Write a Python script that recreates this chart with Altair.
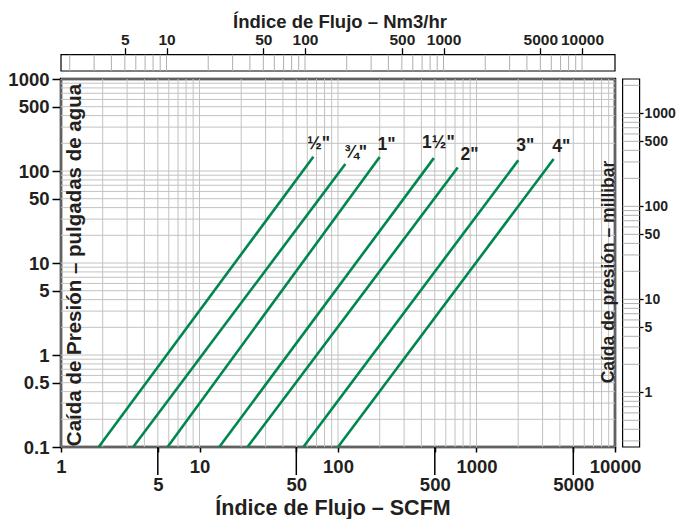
import altair as alt
import pandas as pd

# ---------------- data ----------------
sizes = ['½"', '¾"', '1"', '1½"', '2"', '3"', '4"']
flow_low = [1.87, 3.32, 5.88, 13.9, 22.2, 56.2, 100]          # SCFM at 0.1 in. w.c.
drop_low = [0.1, 0.1, 0.1, 0.1, 0.1, 0.1, 0.1]
flow_high = [66.4, 113, 200, 492, 732, 2005, 3605]           # SCFM at upper end
drop_high = [143, 119, 142, 138, 109, 131, 135]              # in. w.c. at upper end
label_flow = [72.5, 134, 224, 531, 889, 2253, 4093]
label_drop = [196, 157, 191, 201, 149, 187, 182]

scfm_ticks = [1, 5, 10, 50, 100, 500, 1000, 5000, 10000]
scfm_lower_row = [5, 50, 500, 5000]
inh2o_ticks = [0.1, 0.5, 1, 5, 10, 50, 100, 500, 1000]
nm3_ticks = [5, 10, 50, 100, 500, 1000, 5000, 10000]
mbar_ticks = [1, 5, 10, 50, 100, 500, 1000]

scfm_grid = [1, 2, 3, 4, 5, 6, 7, 8, 9,
             10, 20, 30, 40, 50, 60, 70, 80, 90,
             100, 200, 300, 400, 500, 600, 700, 800, 900,
             1000, 2000, 3000, 4000, 5000, 6000, 7000, 8000, 9000, 10000]
inh2o_grid = [0.1, 0.2, 0.3, 0.4, 0.5, 0.6, 0.7, 0.8, 0.9,
              1, 2, 3, 4, 5, 6, 7, 8, 9,
              10, 20, 30, 40, 50, 60, 70, 80, 90,
              100, 200, 300, 400, 500, 600, 700, 800, 900, 1000]
nm3_grid = [2, 3, 4, 5, 6, 7, 8, 9,
            10, 20, 30, 40, 50, 60, 70, 80, 90,
            100, 200, 300, 400, 500, 600, 700, 800, 900,
            1000, 2000, 3000, 4000, 5000, 6000, 7000, 8000, 9000, 10000]
mbar_grid = [0.3, 0.4, 0.5, 0.6, 0.7, 0.8, 0.9,
             1, 2, 3, 4, 5, 6, 7, 8, 9,
             10, 20, 30, 40, 50, 60, 70, 80, 90,
             100, 200, 300, 400, 500, 600, 700, 800, 900, 1000, 2000]

scfm_domain = [1, 10000]
inh2o_domain = [0.1, 1000]
nm3_domain = [1.73, 17300]
mbar_domain = [0.258, 2340]

# ---------------- styling ----------------
W, H = 554, 368
FONT = "Liberation Sans"
INK = "#231f20"
GREEN = "#00874f"
GRID = "#c2c2c2"

xs = alt.Scale(type="log", domain=scfm_domain)
ys = alt.Scale(type="log", domain=inh2o_domain)
top_scale = alt.Scale(type="log", domain=nm3_domain)
right_scale = alt.Scale(type="log", domain=mbar_domain)

one = pd.DataFrame({"k": [0]})

lines_rows = []
for i, s in enumerate(sizes):
    lines_rows.append({"size": s, "order": 0, "flow": flow_low[i], "drop": drop_low[i]})
    lines_rows.append({"size": s, "order": 1, "flow": flow_high[i], "drop": drop_high[i]})
lines_df = pd.DataFrame(lines_rows)
labels_df = pd.DataFrame({"size": sizes, "flow": label_flow, "drop": label_drop})

x_axis = alt.Axis(
    orient="bottom", values=scfm_ticks, format="~g", grid=False, domain=False,
    tickSize=5, tickWidth=1.5, tickColor="black",
    labelPadding={"condition": {"test": "indexof([5,50,500,5000], datum.value) >= 0", "value": 23},
                  "value": 5},
    labelFont=FONT, labelFontSize=18.5, labelFontWeight="bold", labelColor=INK,
    labelFlush=False, labelOverlap=False, title=None,
)
y_axis = alt.Axis(
    orient="left", values=inh2o_ticks, format="~g", grid=False, domain=False,
    tickSize=9, tickWidth=1.5, tickColor="black", labelPadding=3,
    labelFont=FONT, labelFontSize=18.5, labelFontWeight="bold", labelColor=INK,
    labelFlush=False, labelOverlap=False, title=None,
)

X = alt.X("flow:Q", scale=xs, axis=x_axis)
Y = alt.Y("drop:Q", scale=ys, axis=y_axis)

vgrid = alt.Chart(pd.DataFrame({"flow": scfm_grid})).mark_rule(color=GRID, strokeWidth=1).encode(
    x=X, y=alt.value(0), y2=alt.value(H))
hgrid = alt.Chart(pd.DataFrame({"drop": inh2o_grid})).mark_rule(color=GRID, strokeWidth=1).encode(
    y=Y, x=alt.value(0), x2=alt.value(W))
long_ticks = alt.Chart(pd.DataFrame({"flow": scfm_lower_row})).mark_rule(color="black", strokeWidth=1.5).encode(
    x=X, y=alt.value(H), y2=alt.value(H + 28))
lines = alt.Chart(lines_df).mark_line(color=GREEN, strokeWidth=2.6).encode(
    x=X, y=Y, detail="size:N", order="order:Q")
labels = alt.Chart(labels_df).mark_text(font=FONT, fontSize=17.5, fontWeight="bold", color=INK).encode(
    x=X, y=Y, text="size:N")

title_bottom = alt.Chart(one).mark_text(
    text="Índice de Flujo – SCFM", font=FONT, fontSize=21.5, fontWeight="bold", color=INK,
    align="center", baseline="alphabetic").encode(x=alt.value(272), y=alt.value(435.5))
title_left = alt.Chart(one).mark_text(
    text="Caída de Presión – pulgadas de agua", font=FONT, fontSize=20.5, fontWeight="bold", color=INK,
    align="center", baseline="alphabetic", angle=270).encode(x=alt.value(20), y=alt.value(186))
title_right = alt.Chart(one).mark_text(
    text="Caída de presión – millibar", font=FONT, fontSize=17.5, fontWeight="bold", color=INK,
    align="center", baseline="alphabetic", angle=270).encode(x=alt.value(552.5), y=alt.value(193))

main = alt.layer(vgrid, hgrid, long_ticks, lines, labels, title_bottom, title_left, title_right)

# ---- top Nm3/hr strip ----
top_box = alt.Chart(one).mark_rect(fill="white", stroke="black", strokeWidth=1.2).encode(
    x=alt.value(0), x2=alt.value(W), y=alt.value(-24.3), y2=alt.value(-8))
top_lines = alt.Chart(pd.DataFrame({"nm3": nm3_grid})).mark_rule(color="#b0b0b0", strokeWidth=1).encode(
    x=alt.X("nm3:Q", scale=top_scale, axis=alt.Axis(
        orient="top", offset=24.3, values=nm3_ticks, format="~g", grid=False, domain=False,
        tickSize=7, tickWidth=1.3, tickColor="black", labelPadding=0,
        labelFont=FONT, labelFontSize=15.5, labelFontWeight="bold", labelColor=INK,
        labelFlush=False, labelOverlap=False, title=None)),
    y=alt.value(-24.3), y2=alt.value(-8))
top_title = alt.Chart(one).mark_text(
    text="Índice de Flujo – Nm3/hr", font=FONT, fontSize=18.5, fontWeight="bold", color=INK,
    align="center", baseline="alphabetic").encode(x=alt.value(279), y=alt.value(-51))
top = alt.layer(top_box, top_lines, top_title)

# ---- right millibar strip ----
right_box = alt.Chart(one).mark_rect(fill="white", stroke="black", strokeWidth=1.2).encode(
    x=alt.value(561.6), x2=alt.value(578.6), y=alt.value(0), y2=alt.value(H))
right_lines = alt.Chart(pd.DataFrame({"mbar": mbar_grid})).mark_rule(color="#b0b0b0", strokeWidth=1).encode(
    y=alt.Y("mbar:Q", scale=right_scale, axis=alt.Axis(
        orient="right", offset=24.6, values=mbar_ticks, format="~g", grid=False, domain=False,
        tickSize=3.5, tickWidth=1.3, tickColor="black", labelPadding=1,
        labelFont=FONT, labelFontSize=14, labelFontWeight="bold", labelColor=INK,
        labelFlush=False, labelOverlap=False, title=None)),
    x=alt.value(561.6), x2=alt.value(578.6))
right = alt.layer(right_box, right_lines)

chart = alt.layer(main, top, right).resolve_scale(
    x="independent", y="independent"
).properties(
    width=W, height=H,
    autosize=alt.AutoSizeParams(type="none"),
    padding={"left": 53, "top": 71, "right": 61, "bottom": 72},
).configure_view(stroke="black", strokeWidth=2.5)

chart.save("out.html", embed_options={"renderer": "svg", "actions": False})
